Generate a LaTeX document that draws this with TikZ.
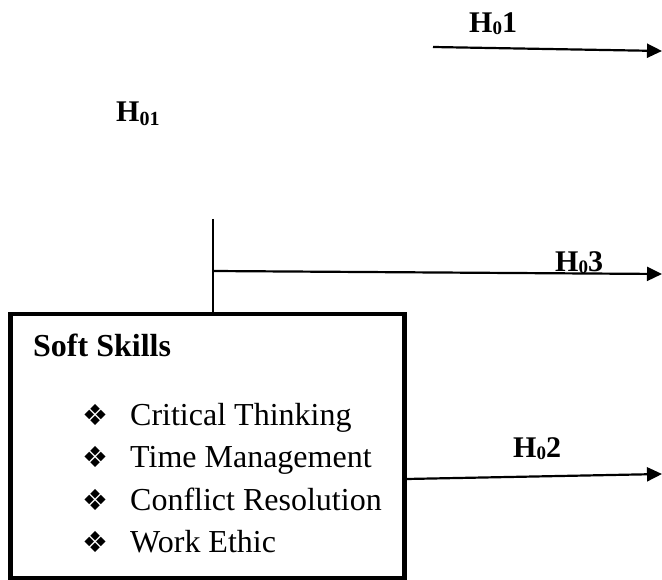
\documentclass[tikz,border=0pt]{standalone}
\usepackage{fontspec}
\setmainfont{Liberation Serif}
\newfontfamily\dingfont{DejaVu Sans}
\usetikzlibrary{arrows.meta}
% hypothesis label: H with a lowered zero and a trailing index
\newcommand{\hyp}[1]{H\raisebox{-2pt}{\fontsize{19}{19}\selectfont 0}#1}
\begin{document}
\begin{tikzpicture}[x=1pt,y=-1pt,
  link/.style={line width=2.2pt, -{Triangle[length=15pt,width=14pt]}},
  hlabel/.style={anchor=base west, inner sep=0pt, font=\fontsize{30}{30}\selectfont\bfseries},
  item/.style={anchor=base west, inner sep=0pt, font=\fontsize{32}{32}\selectfont},
  bul/.style={anchor=base, inner sep=0pt, font=\dingfont\fontsize{29}{29}\selectfont},
  frame/.style={draw, line width=4.5pt, outer sep=0pt, inner sep=0pt, anchor=north west}]
\useasboundingbox (0,0) rectangle (662,580);

% construct box
\node[frame, minimum width=394pt, minimum height=264pt] (box) at (10.5,314) {};
\node[item, font=\fontsize{32}{32}\selectfont\bfseries] (title) at (33,356) {Soft Skills};
\node[bul] (b1) at (95,425) {❖};
\node[item] (i1) at (130,425) {Critical Thinking};
\node[bul] (b2) at (95,467) {❖};
\node[item] (i2) at (130,467) {Time Management};
\node[bul] (b3) at (95,510) {❖};
\node[item] (i3) at (130,510) {Conflict Resolution};
\node[bul] (b4) at (95,552) {❖};
\node[item] (i4) at (130,552) {Work Ethic};

% vertical stem above the box
\coordinate (stem) at (213,219);
\draw[line width=2.2pt] (stem) -- (stem |- box.north);

% hypothesis arrows
\coordinate (a1s) at (433,47);
\coordinate (a1e) at (662,51);
\draw[link] (a1s) -- (a1e);

\coordinate (a3s) at (213,271);
\coordinate (a3e) at (662,274);
\draw[link] (a3s) -- (a3e);

\coordinate (a2s) at (406.5,479);
\coordinate (a2e) at (662,474);
\draw[link] (a2s) -- (a2e);

% labels
\node[hlabel] (h1) at (469,33) {\hyp{1}};
\node[hlabel] (h01) at (116,122) {H\raisebox{-4pt}{\fontsize{20}{20}\selectfont 01}};
\node[hlabel] (h3) at (555,272) {\hyp{3}};
\node[hlabel] (h2) at (513,457) {\hyp{2}};
\end{tikzpicture}
\end{document}
